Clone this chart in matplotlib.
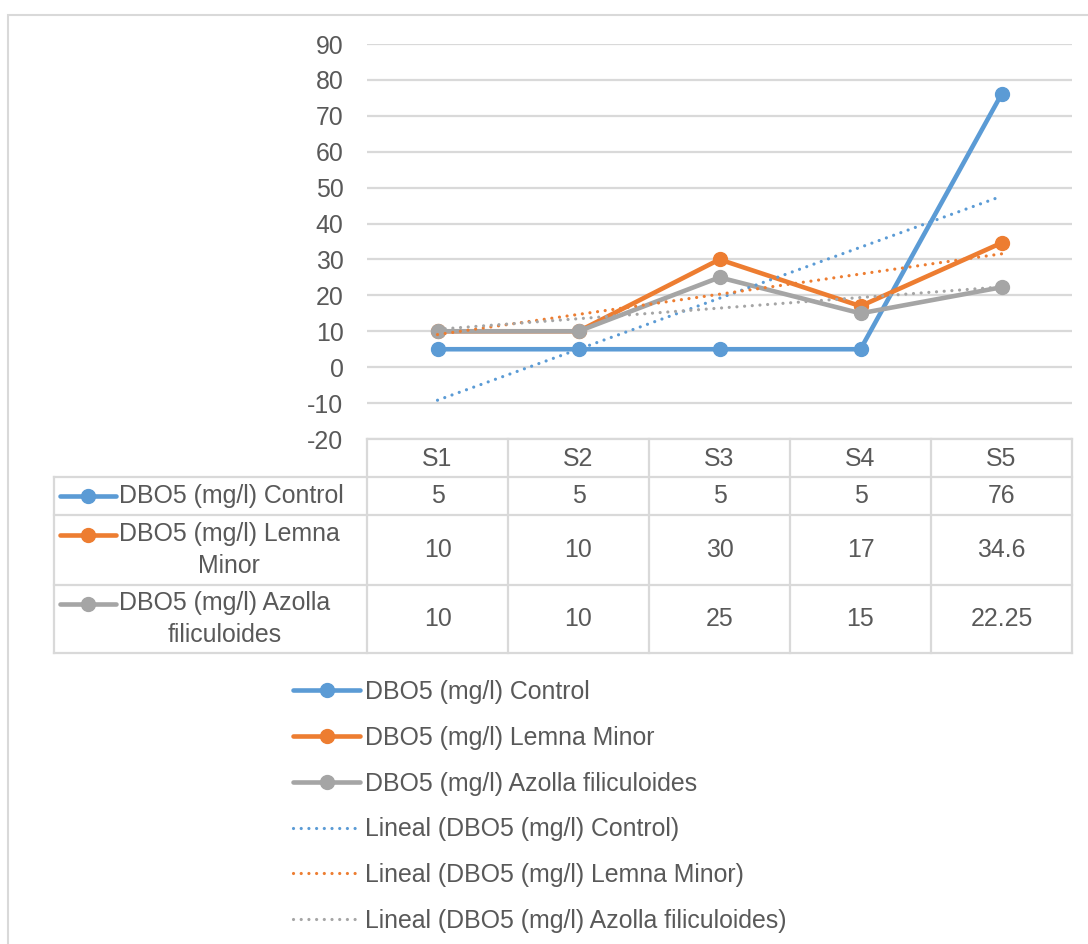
import numpy as np
import matplotlib
matplotlib.use("Agg")
import matplotlib.pyplot as plt
from matplotlib.patches import Rectangle

plt.rcParams['font.family'] = ['Liberation Sans', 'DejaVu Sans']

categories = ["S1", "S2", "S3", "S4", "S5"]
series_names = ["DBO5 (mg/l) Control", "DBO5 (mg/l) Lemna Minor", "DBO5 (mg/l) Azolla filiculoides"]
table_names = ["DBO5 (mg/l) Control", "DBO5 (mg/l) Lemna\nMinor", "DBO5 (mg/l) Azolla\nfiliculoides"]
control = [5, 5, 5, 5, 76]
lemna = [10, 10, 30, 17, 34.6]
azolla = [10, 10, 25, 15, 22.25]
series_values = [control, lemna, azolla]
colors = ["#5B9BD5", "#ED7D31", "#A5A5A5"]
yticks = list(range(-20, 91, 10))

W, H = 1088, 944
TXT = "#595959"
GRID = "#D9D9D9"
FS = 17.9

fig = plt.figure(figsize=(W / 100, H / 100), dpi=100)

def fbox(x0, y0, x1, y1):
    return [x0 / W, 1 - y1 / H, (x1 - x0) / W, (y1 - y0) / H]

# outer chart border
fig.patches.append(Rectangle((8 / W, -0.1), 1.2, 1 - 15 / H + 0.1, transform=fig.transFigure,
                             fill=False, edgecolor=GRID, linewidth=1.5))

ax = fig.add_axes(fbox(367, 44, 1072, 439))
x = np.arange(len(categories))
ax.set_xlim(-0.5, len(categories) - 0.5)
ax.set_ylim(-20, 90)
ax.set_yticks(yticks)
ax.set_yticklabels([str(t) for t in yticks], fontsize=FS, color=TXT)
ax.tick_params(axis='y', length=0, pad=17)
ax.set_xticks([])
for s in ax.spines.values():
    s.set_visible(False)
ax.grid(axis='y', color=GRID, linewidth=1.6)
ax.set_axisbelow(True)

handles = []
for name, vals, c in zip(series_names, series_values, colors):
    ln, = ax.plot(x, vals, color=c, linewidth=3.3, marker='o', markersize=10,
                  solid_capstyle='round', label=name, zorder=3, clip_on=False)
    handles.append(ln)
for name, vals, c in zip(series_names, series_values, colors):
    xs = np.arange(1, len(vals) + 1)
    k, b = np.polyfit(xs, vals, 1)
    ln, = ax.plot(x, k * xs + b, color=c, linewidth=2.3, linestyle=(0, (0.01, 2.4)),
                  dash_capstyle='round', label=f"Lineal ({name})", zorder=4)
    handles.append(ln)

# data table
tax = fig.add_axes(fbox(54, 439, 1072, 653))
colw = 141.0
left_w = 367 - 54
tax.set_xlim(-0.5 - left_w / colw, len(categories) - 0.5)
tax.set_ylim(214, 0)
tax.axis('off')
rows = [0, 38, 76, 146, 214]
lw = 1.6
tax.plot([-0.5, len(categories) - 0.5], [rows[0], rows[0]], color=GRID, lw=lw, clip_on=False)
for r in rows[1:]:
    tax.plot([-0.5 - left_w / colw, len(categories) - 0.5], [r, r], color=GRID, lw=lw, clip_on=False)
for i in range(len(categories) + 1):
    tax.plot([i - 0.5, i - 0.5], [rows[0], rows[-1]], color=GRID, lw=lw, clip_on=False)
tax.plot([-0.5 - left_w / colw] * 2, [rows[1], rows[-1]], color=GRID, lw=lw, clip_on=False)
for i, cat in enumerate(categories):
    tax.text(i, (rows[0] + rows[1]) / 2 + 1, cat, ha='center', va='center', fontsize=FS, color=TXT)
xl = -0.5 - left_w / colw
for j, (tname, vals, c) in enumerate(zip(table_names, series_values, colors)):
    yc = (rows[j + 1] + rows[j + 2]) / 2
    nlines = tname.count("\n") + 1
    first = yc - (nlines - 1) * 15.5
    hx0 = xl + 6 / colw
    hx1 = xl + 62 / colw
    tax.plot([hx0, hx1], [first, first], color=c, lw=3.3, solid_capstyle='round', clip_on=False)
    tax.plot([(hx0 + hx1) / 2], [first], marker='o', color=c, markersize=10, clip_on=False)
    tax.text(xl + 65 / colw, yc, tname, ha='left', va='center', multialignment='center',
             fontsize=FS, color=TXT, linespacing=1.4)
    for i, v in enumerate(vals):
        tax.text(i, yc, f"{v:g}", ha='center', va='center', fontsize=FS, color=TXT)

fig.legend(handles=handles, loc='upper left', bbox_to_anchor=(293 / W, 1 - 680 / H),
           frameon=False, fontsize=FS, labelcolor=TXT, handlelength=2.7,
           handletextpad=0.2, labelspacing=0.875, numpoints=1, borderaxespad=0, borderpad=0)

fig.savefig("out.png", dpi=100)
